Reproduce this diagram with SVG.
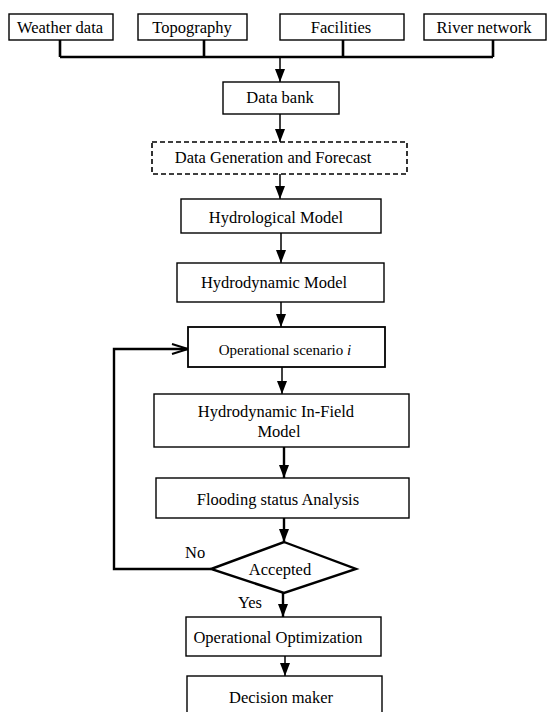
<svg xmlns="http://www.w3.org/2000/svg" width="547" height="712" viewBox="0 0 547 712">
<style>
  .box { fill: #ffffff; stroke: #000000; stroke-width: 1.4; }
  .dash { fill: #ffffff; stroke: #000000; stroke-width: 1.6; stroke-dasharray: 5 3; }
  .dia { fill: #ffffff; stroke: #000000; stroke-width: 2.4; stroke-linejoin: miter; }
  .t { font-family: "Liberation Serif", "Times New Roman", serif; font-size: 16.5px; fill: #000000; text-anchor: middle; }
  .ts { font-family: "Liberation Serif", "Times New Roman", serif; font-size: 15px; fill: #000000; text-anchor: middle; }
  .lbl { font-family: "Liberation Serif", "Times New Roman", serif; font-size: 16.5px; fill: #000000; }
  .c { fill: none; stroke: #000000; stroke-width: 1.5; }
  .ck { fill: none; stroke: #000000; stroke-width: 2.4; }
  .bus { fill: none; stroke: #000000; stroke-width: 2.6; }
</style>
<defs>
  <marker id="ah" markerUnits="userSpaceOnUse" markerWidth="12" markerHeight="12" refX="13" refY="6" orient="auto">
    <path d="M0,1 L13,6 L0,11 z" fill="#000000"/>
  </marker>
  <marker id="oa" markerUnits="userSpaceOnUse" markerWidth="18" markerHeight="12" refX="17" refY="6" orient="auto">
    <path d="M1,1 L17,6 L1,11" fill="none" stroke="#000000" stroke-width="2"/>
  </marker>
</defs>

<g id="connectors">
  <path class="bus" d="M60,40 V57 M204,40 V57 M343,40 V57 M493,40 V57 M60,57 H493"/>
  <path class="c" d="M280,57 V82" marker-end="url(#ah)"/>
  <path class="c" d="M280,114 V142" marker-end="url(#ah)"/>
  <path class="c" d="M280,174 V199" marker-end="url(#ah)"/>
  <path class="c" d="M281,233 V263" marker-end="url(#ah)"/>
  <path class="c" d="M281,302 V327" marker-end="url(#ah)"/>
  <path class="c" d="M282,367 V394" marker-end="url(#ah)"/>
  <path class="ck" d="M284,447 V478" marker-end="url(#ah)"/>
  <path class="ck" d="M284,518 V542" marker-end="url(#ah)"/>
  <path class="ck" d="M283,593 V617" marker-end="url(#ah)"/>
  <path class="c" d="M285,656 V676" marker-end="url(#ah)"/>
  <path class="ck" d="M211,569 H114 V349 H188" marker-end="url(#oa)"/>
</g>

<g id="weather-data">
  <rect class="box" x="9" y="14" width="104" height="26"/>
  <text class="t" x="60" y="33">Weather data</text>
</g>
<g id="topography">
  <rect class="box" x="138" y="14" width="109" height="26"/>
  <text class="t" x="192" y="33">Topography</text>
</g>
<g id="facilities">
  <rect class="box" x="280" y="14" width="124" height="26"/>
  <text class="t" x="341" y="33">Facilities</text>
</g>
<g id="river-network">
  <rect class="box" x="424" y="14" width="122" height="26"/>
  <text class="t" x="484" y="33">River network</text>
</g>
<g id="data-bank">
  <rect class="box" x="223" y="82" width="116" height="32"/>
  <text class="t" x="280" y="103">Data bank</text>
</g>
<g id="data-generation">
  <rect class="dash" x="152" y="142" width="255" height="32"/>
  <text class="t" x="273" y="163">Data Generation and Forecast</text>
</g>
<g id="hydrological-model">
  <rect class="box" x="181" y="199" width="200" height="34"/>
  <text class="t" x="276" y="223">Hydrological Model</text>
</g>
<g id="hydrodynamic-model">
  <rect class="box" x="177" y="263" width="207" height="39"/>
  <text class="t" x="274" y="288">Hydrodynamic Model</text>
</g>
<g id="operational-scenario">
  <rect class="box" x="188" y="327" width="197" height="40" style="stroke-width:1.8"/>
  <text class="ts" x="285" y="355">Operational scenario <tspan font-style="italic">i</tspan></text>
</g>
<g id="hydrodynamic-infield">
  <rect class="box" x="154" y="394" width="255" height="53"/>
  <text class="t" x="276" y="417">Hydrodynamic In-Field</text>
  <text class="t" x="279" y="437">Model</text>
</g>
<g id="flooding-status">
  <rect class="box" x="156" y="478" width="253" height="40"/>
  <text class="t" x="278" y="505">Flooding status Analysis</text>
</g>
<g id="accepted">
  <polygon class="dia" points="284,542 356,569 284,593 211,569"/>
  <text class="t" x="280" y="575">Accepted</text>
  <text class="lbl" x="185" y="558">No</text>
  <text class="lbl" x="238" y="608">Yes</text>
</g>
<g id="operational-optimization">
  <rect class="box" x="186" y="617" width="195" height="39"/>
  <text class="t" x="278" y="643">Operational Optimization</text>
</g>
<g id="decision-maker">
  <rect class="box" x="187" y="676" width="195" height="42"/>
  <text class="t" x="281" y="703">Decision maker</text>
</g>
</svg>
